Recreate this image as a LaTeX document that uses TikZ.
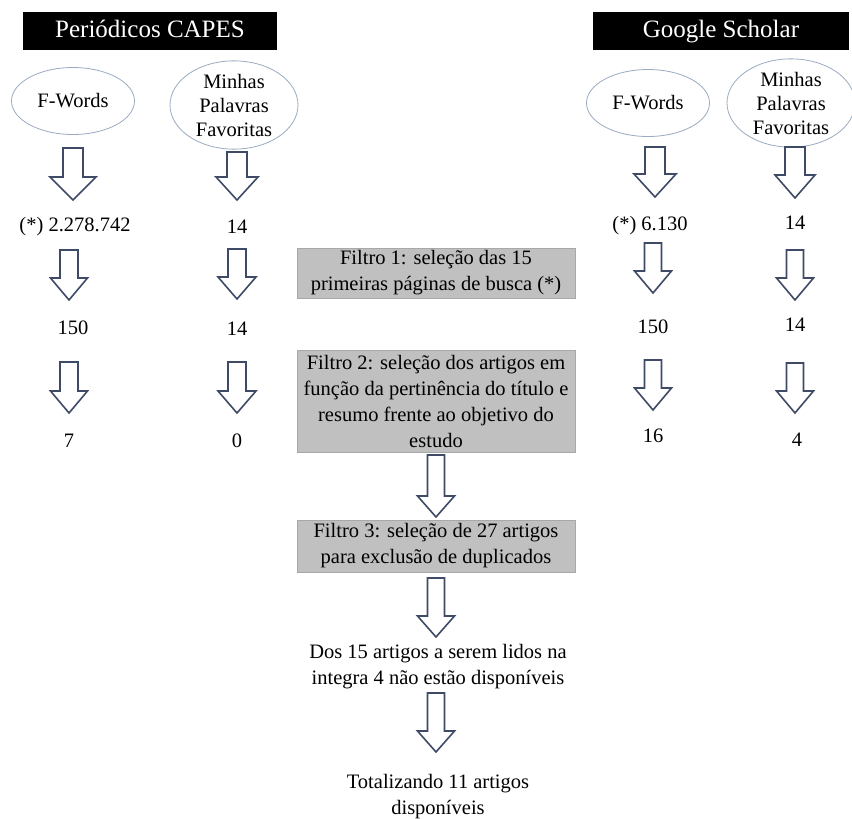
\documentclass[tikz,border=0pt]{standalone}
\usepackage{fontspec}
\setmainfont{Liberation Serif}
\usetikzlibrary{shapes.geometric}
\definecolor{arrowc}{HTML}{3E4A66}
\definecolor{ellc}{HTML}{9AAAC0}
\definecolor{boxfill}{HTML}{C0C0C0}
\definecolor{boxline}{HTML}{A8A8A8}
\newcommand{\blockarr}[6]{% x, ytop, ybot, shaft half, head half, head height
  \draw[arrowc, line width=1.6pt, line join=miter, fill=white]
    (#1-#4,#2) -- (#1+#4,#2) -- (#1+#4,#3-#6) -- (#1+#5,#3-#6) -- (#1,#3)
    -- (#1-#5,#3-#6) -- (#1-#4,#3-#6) -- cycle;}
\begin{document}
\begin{tikzpicture}[x=1pt,y=-1pt,
  every node/.style={font=\fontsize{20.5}{24}\selectfont, inner sep=0pt},
  header/.style={fill=black, text=white, font=\fontsize{25}{28}\selectfont, minimum height=38pt, text height=17pt, text depth=5pt},
  kw/.style={ellipse, draw=ellc, line width=0.8pt, minimum width=123pt, minimum height=67pt, align=center},
  kw3/.style={kw, minimum width=128pt, minimum height=83pt},
  filtro/.style={fill=boxfill, draw=boxline, line width=0.8pt, minimum width=278pt, align=center, font=\fontsize{20.5}{26}\selectfont},
  num/.style={},
  final/.style={align=center, font=\fontsize{20.5}{26}\selectfont}]
\useasboundingbox (0,0) rectangle (852,819);
% headers
\node[header, minimum width=254pt] (capes) at (150,31) {Periódicos CAPES};
\node[header, minimum width=256pt] (gs) at (721,31) {Google Scholar};
% ellipses
\node[kw] (fw1) at (73,101) {F-Words};
\node[kw3] (mp1) at (234,105) {Minhas\\Palavras\\Favoritas};
\node[kw] (fw2) at (648,103) {F-Words};
\node[kw3] (mp2) at (791,103) {Minhas\\Palavras\\Favoritas};
% numbers left
\node[num] (l1a) at (75,227) {(*) 2.278.742};
\node[num] (l2a) at (237,227) {14};
\node[num] (l1b) at (73,328) {150};
\node[num] (l2b) at (237,329) {14};
\node[num] (l1c) at (69,441) {7};
\node[num] (l2c) at (237,441) {0};
% numbers right
\node[num] (r1a) at (650,226) {(*) 6.130};
\node[num] (r2a) at (795,223) {14};
\node[num] (r1b) at (653,327) {150};
\node[num] (r2b) at (795,325) {14};
\node[num] (r1c) at (653,436) {16};
\node[num] (r2c) at (797,440) {4};
% filters
\node[filtro, minimum height=50pt] (f1) at (436,273) {Filtro 1: seleção das 15\\primeiras páginas de busca (*)};
\node[filtro, minimum height=102pt] (f2) at (436,401) {Filtro 2: seleção dos artigos em\\função da pertinência do título e\\resumo frente ao objetivo do\\estudo};
\node[filtro, minimum height=52pt] (f3) at (436,546) {Filtro 3: seleção de 27 artigos\\para exclusão de duplicados};
\node[final] (dos) at (438,667) {Dos 15 artigos a serem lidos na\\integra 4 não estão disponíveis};
\node[final] (tot) at (438,797) {Totalizando 11 artigos\\disponíveis};
% block arrows, first row
\blockarr{73}{148}{200}{10}{23}{23}
\blockarr{237}{152}{200}{10}{21}{23}
\blockarr{655}{147}{197}{10}{21}{23}
\blockarr{795}{147}{198}{10}{20}{23}
% second row
\blockarr{69}{250}{300}{9}{18.5}{22}
\blockarr{237}{249}{299}{9}{19}{22}
\blockarr{653}{243}{293}{8.5}{18.5}{22}
\blockarr{795}{250}{300}{8.5}{18.5}{22}
% third row
\blockarr{69}{362}{413}{9}{18.5}{22}
\blockarr{237}{362}{413}{9}{19}{22}
\blockarr{653}{360}{410}{8.5}{18.5}{22}
\blockarr{795}{363}{413}{8.5}{18.5}{22}
% middle column
\blockarr{436}{455}{517}{8.5}{18.5}{21}
\blockarr{436}{578}{637}{8.5}{18.5}{21}
\blockarr{436}{693}{752}{8.5}{18.5}{21}
\end{tikzpicture}
\end{document}
